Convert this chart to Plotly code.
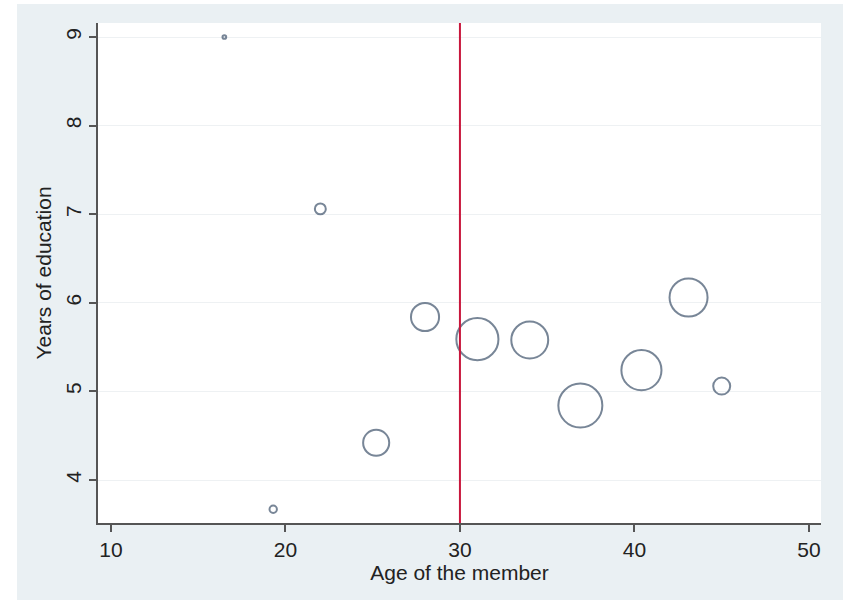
import plotly.graph_objects as go

# Data
age = [16.5, 19.3, 22.0, 25.2, 28.0, 31.0, 34.0, 36.9, 40.4, 43.1, 45.0]
education = [9.0, 3.67, 7.06, 4.42, 5.84, 5.59, 5.58, 4.84, 5.24, 6.06, 5.06]
weights = [0.5, 2.0, 4.4, 25, 29, 65, 50, 71, 59, 53, 10.6]
x_ticks = [10, 20, 30, 40, 50]
y_ticks = [4, 5, 6, 7, 8, 9]
cutoff_age = 30

max_d = 44
sizeref = 2 * max(weights) / (max_d ** 2)

fig = go.Figure()
fig.add_trace(go.Scatter(
    x=age, y=education, mode="markers",
    marker=dict(size=weights, sizemode="area", sizeref=sizeref, sizemin=1,
                color="rgba(0,0,0,0)",
                line=dict(color="#3f536c", width=2)),
    showlegend=False, hoverinfo="x+y",
))

fig.add_shape(type="line", xref="x", yref="paper", x0=cutoff_age, x1=cutoff_age,
              y0=0, y1=1, line=dict(color="#c8163c", width=2), layer="above")

# outer grey frame (starts 17px from left, 4px from top) and white plot region
fig.add_shape(type="rect", xref="paper", yref="paper", x0=-0.112, x1=1.08,
              y0=-0.2, y1=1.038, fillcolor="#eaf0f3", line=dict(width=0), layer="below")
fig.add_shape(type="rect", xref="paper", yref="paper", x0=0, x1=1,
              y0=0, y1=1, fillcolor="white", line=dict(width=0), layer="below")

font = dict(family="Liberation Sans, Arial, sans-serif", color="#222222")

fig.update_layout(
    width=843, height=600,
    margin=dict(l=98, r=22, t=23, b=77),
    paper_bgcolor="white", plot_bgcolor="white",
    font=dict(**font, size=21),
    xaxis=dict(
        range=[9.26, 50.69], tickvals=x_ticks, ticks="outside", ticklen=7,
        tickcolor="#555555", tickwidth=1.5,
        showline=True, linecolor="#555555", linewidth=1.5,
        showgrid=False, zeroline=False,
        tickfont=dict(size=21),
        title=dict(text="Age of the member", font=dict(size=21), standoff=2),
    ),
    yaxis=dict(
        range=[3.515, 9.158], tickvals=y_ticks, ticks="outside", ticklen=7,
        tickcolor="#555555", tickwidth=1.5, tickangle=-90,
        showline=True, linecolor="#555555", linewidth=1.5,
        showgrid=True, gridcolor="#eef1f3", gridwidth=1, zeroline=False,
        tickfont=dict(size=21),
        title=dict(text="Years of education", font=dict(size=21), standoff=4),
    ),
)

fig.write_html("out.html", config={"displayModeBar": False},
               post_script="document.body.style.margin='0px';document.body.style.overflow='hidden';")
